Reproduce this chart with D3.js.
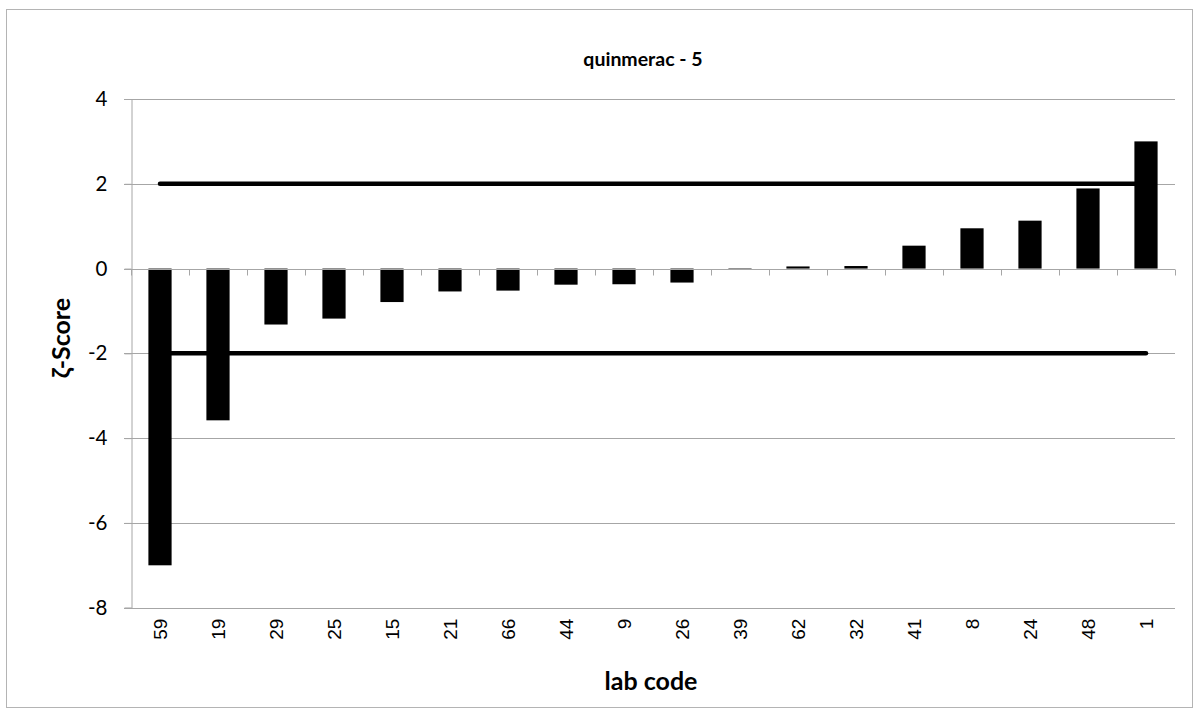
<!DOCTYPE html>
<html>
<head>
<meta charset="utf-8">
<script src="https://cdn.jsdelivr.net/npm/d3@7/dist/d3.min.js"></script>
<style>
  html, body { margin: 0; padding: 0; background: #fff; }
  svg { display: block; }
</style>
</head>
<body>
<svg id="chart" width="1199" height="718"></svg>
<script>
const labs = ["59","19","29","25","15","21","66","44","9","26","39","62","32","41","8","24","48","1"];
const zeta = [-7.0,-3.58,-1.32,-1.18,-0.79,-0.54,-0.52,-0.38,-0.37,-0.33,-0.01,0.05,0.06,0.54,0.95,1.13,1.89,3.0];
const limits = [2, -2];
const yTicks = [4, 2, 0, -2, -4, -6, -8];
const title = "quinmerac - 5";
const xTitle = "lab code";
const yTitle = "ζ-Score";

const svg = d3.select("#chart");
const W = 1199, H = 718;
const m = { left: 131, right: 1175, top: 99, bottom: 607.7 };
const gridColor = "#a6a6a6";
const uiFont = "Lato, 'Open Sans', sans-serif";

svg.append("rect").attr("x", 0).attr("y", 0).attr("width", W).attr("height", H).attr("fill", "#fff");
svg.append("rect").attr("x", 6.5).attr("y", 9.5).attr("width", 1186).attr("height", 698)
  .attr("fill", "none").attr("stroke", "#b4b4b4").attr("stroke-width", 1);

const x = d3.scaleBand().domain(labs).range([m.left, m.right]).padding(0);
const y = d3.scaleLinear().domain([-8, 4]).range([m.bottom, m.top]);
const barW = x.bandwidth() / 2.5;

// gridlines
svg.append("g").selectAll("line").data(yTicks.filter(d => d !== 0)).join("line")
  .attr("x1", m.left - 7).attr("x2", m.right)
  .attr("y1", d => Math.round(y(d)) + 0.5).attr("y2", d => Math.round(y(d)) + 0.5)
  .attr("stroke", gridColor).attr("stroke-width", 1);

// y axis
const yAxis = d3.axisLeft(y).tickValues(yTicks).tickSize(7).tickPadding(17).tickFormat(d3.format("d"));
const gy = svg.append("g").attr("transform", `translate(${m.left + 0.5},0)`).call(yAxis);
gy.select(".domain").attr("stroke", gridColor);
gy.selectAll(".tick line").attr("stroke", gridColor);
gy.selectAll(".tick text").attr("font-family", uiFont).attr("font-size", 20.5).attr("fill", "#000")
  .text(d => d < 0 ? "-" + Math.abs(d) : d);

// limit lines
svg.append("g").selectAll("line").data(limits).join("line")
  .attr("x1", x(labs[0]) + x.bandwidth() / 2)
  .attr("x2", x(labs[labs.length - 1]) + x.bandwidth() / 2)
  .attr("y1", d => y(d)).attr("y2", d => y(d))
  .attr("stroke", "#000").attr("stroke-width", 4.5).attr("stroke-linecap", "round");

// bars
svg.append("g").selectAll("rect").data(labs.map((l, i) => ({ l, v: zeta[i] }))).join("rect")
  .attr("x", d => x(d.l) + (x.bandwidth() - barW) / 2)
  .attr("width", barW)
  .attr("y", d => y(Math.max(0, d.v)))
  .attr("height", d => Math.abs(y(d.v) - y(0)))
  .attr("fill", "#000");

// x axis at zero
const y0 = Math.round(y(0)) + 0.5;
svg.append("line").attr("x1", m.left - 7).attr("x2", m.right).attr("y1", y0).attr("y2", y0)
  .attr("stroke", gridColor).attr("stroke-width", 1);
const bounds = labs.map(l => x(l)).concat([m.right]);
svg.append("g").selectAll("line").data(bounds).join("line")
  .attr("x1", d => Math.round(d) + 0.5).attr("x2", d => Math.round(d) + 0.5)
  .attr("y1", y0).attr("y2", y0 + 6)
  .attr("stroke", gridColor).attr("stroke-width", 1);

// x labels (rotated) under plot
svg.append("g").selectAll("text").data(labs).join("text")
  .attr("transform", d => `translate(${x(d) + x.bandwidth() / 2},${m.bottom + 11}) rotate(-90)`)
  .attr("text-anchor", "end").attr("dominant-baseline", "central")
  .attr("font-family", "'Liberation Sans', Arial, sans-serif").attr("font-size", 19).attr("fill", "#000")
  .text(d => d);

// titles
svg.append("text").attr("x", 643).attr("y", 66).attr("text-anchor", "middle")
  .attr("font-family", uiFont).attr("font-weight", "bold").attr("font-size", 19.5).attr("fill", "#000")
  .text(title);
svg.append("text").attr("x", 651).attr("y", 690).attr("text-anchor", "middle")
  .attr("font-family", uiFont).attr("font-weight", "bold").attr("font-size", 25).attr("fill", "#000")
  .text(xTitle);
svg.append("text").attr("transform", `translate(70,338) rotate(-90)`)
  .attr("text-anchor", "middle")
  .attr("font-family", uiFont).attr("font-weight", "bold").attr("font-size", 25).attr("fill", "#000")
  .text(yTitle);
</script>
</body>
</html>
